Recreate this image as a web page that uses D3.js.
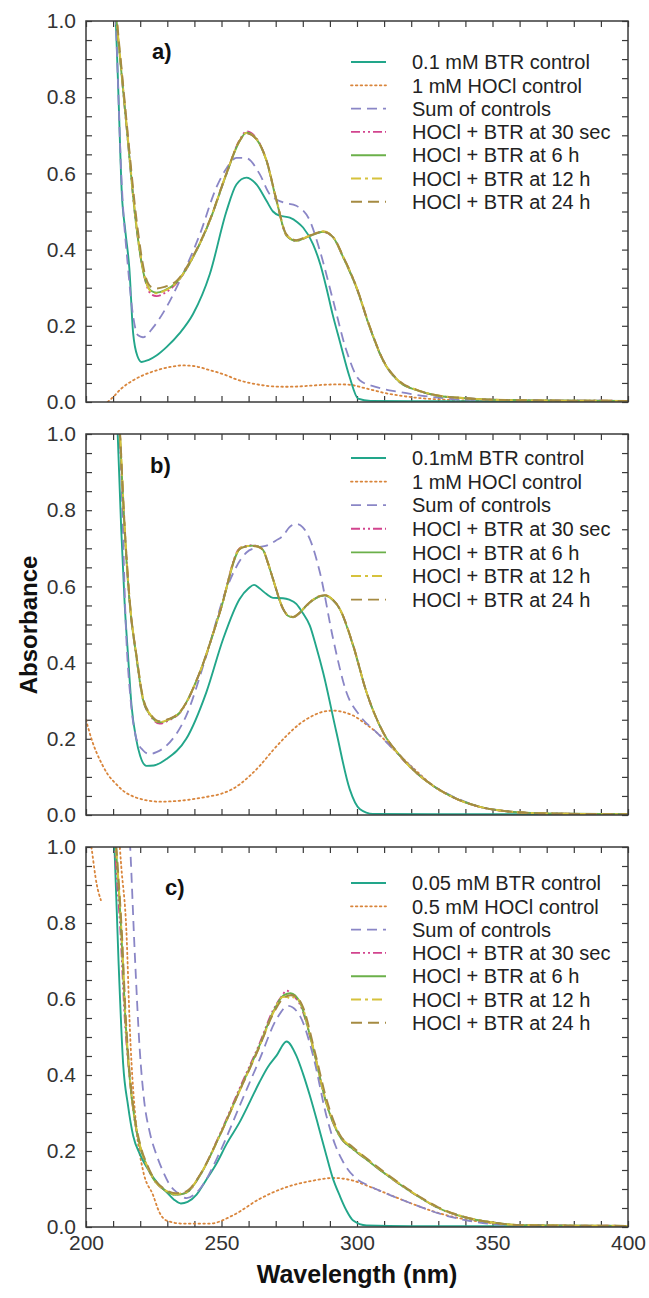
<!DOCTYPE html>
<html><head><meta charset="utf-8">
<script src="https://cdn.jsdelivr.net/npm/d3@7"></script>
<style>body{margin:0;background:#fff;} text{font-family:"Liberation Sans",Arial,sans-serif;}</style>
</head><body><svg id="chart" width="649" height="1298"></svg>
<script>
// ---------------- DATA ----------------
const xTickLabels = [200, 250, 300, 350, 400];
const yTickLabels = [0.0, 0.2, 0.4, 0.6, 0.8, 1.0];
const panelLabels = ["a)", "b)", "c)"];
const seriesNames = ["BTR control", "HOCl control", "Sum of controls", "30 sec", "6 h", "12 h", "24 h"];
const legendA = ["0.1 mM BTR control", "1 mM HOCl control", "Sum of controls", "HOCl + BTR at 30 sec", "HOCl + BTR at 6 h", "HOCl + BTR at 12 h", "HOCl + BTR at 24 h"];
const legendB = ["0.1mM BTR control", "1 mM HOCl control", "Sum of controls", "HOCl + BTR at 30 sec", "HOCl + BTR at 6 h", "HOCl + BTR at 12 h", "HOCl + BTR at 24 h"];
const legendC = ["0.05 mM BTR control", "0.5 mM HOCl control", "Sum of controls", "HOCl + BTR at 30 sec", "HOCl + BTR at 6 h", "HOCl + BTR at 12 h", "HOCl + BTR at 24 h"];

// Panel a: [wavelength nm, absorbance]
const aBTR = [[210.3,1.1],[211,1.0],[212,0.8],[213.2,0.55],[214.5,0.45],[216,0.35],[217.4,0.18],[219,0.12],[220.5,0.105],[223,0.11],[226,0.122],[229.7,0.144],[234.5,0.18],[239.5,0.231],[245.7,0.336],[251.8,0.50],[255.5,0.571],[259.2,0.589],[262.9,0.571],[266.6,0.528],[269,0.5],[271.5,0.489],[275.2,0.484],[278,0.472],[280.1,0.458],[283.8,0.414],[286.5,0.36],[288.7,0.30],[291,0.23],[293.6,0.161],[297.3,0.065],[300.4,0.009],[305,0.003],[320,0.002],[400,0.002]];
const aHOCl = [[208,0.0],[210,0.013],[213,0.035],[217.4,0.057],[221,0.07],[226,0.083],[231,0.092],[235.8,0.096],[240,0.094],[245,0.085],[251.8,0.07],[256,0.058],[260.4,0.05],[265,0.044],[269,0.041],[274,0.04],[278.9,0.041],[285,0.044],[291.2,0.046],[295,0.046],[298.6,0.044],[302,0.038],[306,0.031],[310,0.024],[315.8,0.017],[322,0.011],[330,0.007],[340,0.004],[360,0.002],[400,0.002]];
const aSum = [[210.4,1.1],[211,1.0],[213,0.6],[215.5,0.353],[217.5,0.22],[219.2,0.175],[221,0.17],[224.8,0.196],[229.7,0.249],[234.6,0.318],[242,0.44],[248.1,0.563],[252,0.615],[255.5,0.641],[259.2,0.64],[264.1,0.598],[267.8,0.545],[272.7,0.524],[277.6,0.515],[282.6,0.476],[286.3,0.397],[291.2,0.266],[296.1,0.135],[301,0.057],[307.2,0.039],[315.8,0.026],[328,0.013],[340,0.006],[400,0.003]];
const a30s = [[210.5,1.08],[211.3,1.0],[213,0.87],[215,0.72],[218.6,0.46],[221.5,0.33],[224,0.283],[226,0.278],[229,0.286],[233.4,0.312],[239.5,0.38],[245.7,0.476],[251.8,0.598],[256.7,0.688],[259.2,0.71],[262.9,0.692],[266.6,0.633],[270.3,0.528],[274,0.437],[277.6,0.423],[282.6,0.436],[287.5,0.447],[291.2,0.432],[294.9,0.38],[299.8,0.30],[304.7,0.196],[309.6,0.109],[315.8,0.052],[322,0.031],[329.3,0.017],[340,0.01],[350,0.006],[370,0.004],[400,0.003]];
const a6h = [[210.5,1.08],[211.3,1.0],[213,0.87],[215,0.72],[218.6,0.46],[221.5,0.33],[224,0.292],[226,0.287],[229,0.293],[233.4,0.314],[239.5,0.38],[245.7,0.476],[251.8,0.598],[256.7,0.685],[259.2,0.707],[262.9,0.69],[266.6,0.633],[270.3,0.528],[274,0.437],[277.6,0.423],[282.6,0.436],[287.5,0.447],[291.2,0.432],[294.9,0.38],[299.8,0.30],[304.7,0.196],[309.6,0.109],[315.8,0.052],[322,0.031],[329.3,0.017],[340,0.01],[350,0.006],[370,0.004],[400,0.003]];
const a12h = [[210.6,1.08],[211.4,1.0],[213.1,0.87],[215.1,0.72],[218.7,0.46],[221.6,0.33],[224,0.29],[226,0.285],[229,0.292],[233.4,0.314],[239.5,0.381],[245.7,0.477],[251.8,0.6],[256.7,0.686],[259.2,0.706],[262.9,0.69],[266.6,0.634],[270.3,0.53],[274,0.438],[277.6,0.424],[282.6,0.437],[287.5,0.448],[291.2,0.433],[294.9,0.382],[299.8,0.302],[304.7,0.198],[309.6,0.11],[315.8,0.053],[322,0.032],[329.3,0.018],[340,0.01],[350,0.006],[370,0.004],[400,0.003]];
const a24h = [[210.7,1.08],[211.5,1.0],[213.2,0.87],[215.2,0.72],[218.8,0.47],[221.6,0.34],[224,0.302],[226,0.298],[229,0.302],[233.4,0.318],[239.5,0.383],[245.7,0.478],[251.8,0.6],[256.7,0.686],[259.2,0.705],[262.9,0.69],[266.6,0.635],[270.3,0.53],[274,0.44],[277.6,0.425],[282.6,0.437],[287.5,0.447],[291.2,0.433],[294.9,0.382],[299.8,0.302],[304.7,0.198],[309.6,0.111],[315.8,0.054],[322,0.032],[329.3,0.018],[340,0.01],[350,0.006],[370,0.004],[400,0.003]];

// Panel b
const bBTR = [[211.2,1.1],[211.7,1.0],[213,0.75],[214.3,0.55],[215.5,0.42],[216.8,0.287],[218.5,0.2],[220,0.155],[222.3,0.129],[225,0.13],[229.7,0.147],[237,0.2],[244.4,0.322],[250.6,0.462],[256.7,0.567],[260,0.595],[262,0.604],[264,0.595],[266.6,0.58],[269,0.57],[272.7,0.569],[275,0.565],[277.6,0.554],[280,0.53],[282.6,0.497],[285,0.44],[287.5,0.374],[292.4,0.217],[297.3,0.068],[301,0.016],[305.9,0.003],[330,0.002],[400,0.002]];
const bHOCl = [[200,0.25],[202,0.2],[204,0.162],[206,0.132],[208,0.107],[211,0.082],[214,0.062],[218,0.047],[222,0.039],[227,0.035],[232,0.036],[238,0.04],[244,0.047],[250,0.056],[254,0.068],[257,0.082],[260,0.1],[264.1,0.129],[269,0.17],[274,0.208],[279,0.24],[283.8,0.261],[288,0.272],[291.2,0.274],[295,0.27],[298.6,0.261],[303,0.24],[307.2,0.217],[315.8,0.156],[322,0.115],[328,0.077],[335,0.048],[345,0.022],[355,0.01],[370,0.004],[400,0.002]];
const bSum = [[211.8,1.1],[212.5,1.0],[214.9,0.462],[216.5,0.3],[218.6,0.2],[221,0.17],[223.5,0.16],[226,0.165],[229.7,0.182],[237,0.261],[244.4,0.418],[251.8,0.593],[259.2,0.689],[263,0.702],[266.6,0.707],[270,0.72],[272.7,0.733],[275,0.755],[277.6,0.764],[280,0.755],[282.6,0.724],[286.3,0.637],[291.2,0.462],[296.1,0.322],[301,0.261],[307.2,0.217],[315.8,0.156],[328,0.077],[335,0.05],[345,0.022],[355,0.01],[370,0.004],[400,0.002]];
const b30s = [[211.6,1.1],[212.4,1.0],[214,0.78],[216.2,0.55],[218.5,0.42],[221,0.304],[224,0.258],[227.2,0.24],[230.5,0.248],[234.6,0.268],[242,0.374],[249.4,0.533],[256.7,0.7],[259,0.706],[261.7,0.708],[263.5,0.705],[265.4,0.696],[267.2,0.66],[269,0.619],[272.7,0.541],[274.5,0.523],[276.4,0.519],[278.8,0.53],[281.3,0.549],[285,0.57],[288.1,0.576],[291,0.565],[293.6,0.541],[298.6,0.444],[303.5,0.322],[309.6,0.217],[315.8,0.155],[322,0.11],[328,0.077],[335,0.048],[345,0.022],[355,0.01],[370,0.004],[400,0.002]];
const b6h = [[211.7,1.1],[212.5,1.0],[214,0.78],[216.2,0.55],[218.5,0.42],[221,0.304],[224,0.26],[227.2,0.243],[230.5,0.25],[234.6,0.269],[242,0.374],[249.4,0.532],[256.7,0.698],[259,0.705],[261.7,0.707],[263.5,0.705],[265.4,0.695],[267.2,0.66],[269,0.619],[272.7,0.541],[274.5,0.523],[276.4,0.519],[278.8,0.53],[281.3,0.549],[285,0.57],[288.1,0.576],[291,0.565],[293.6,0.541],[298.6,0.444],[303.5,0.322],[309.6,0.217],[315.8,0.156],[322,0.11],[328,0.077],[335,0.048],[345,0.022],[355,0.01],[370,0.004],[400,0.002]];
const b12h = [[211.8,1.1],[212.6,1.0],[214.1,0.78],[216.3,0.55],[218.6,0.42],[221.1,0.305],[224,0.261],[227.2,0.244],[230.5,0.251],[234.6,0.27],[242,0.375],[249.4,0.533],[256.7,0.699],[259,0.706],[261.7,0.706],[263.5,0.704],[265.4,0.695],[267.2,0.661],[269,0.62],[272.7,0.542],[274.5,0.524],[276.4,0.52],[278.8,0.531],[281.3,0.55],[285,0.571],[288.1,0.577],[291,0.566],[293.6,0.542],[298.6,0.445],[303.5,0.323],[309.6,0.218],[315.8,0.156],[322,0.11],[328,0.077],[335,0.048],[345,0.022],[355,0.01],[370,0.004],[400,0.002]];
const b24h = [[211.8,1.1],[212.6,1.0],[214.1,0.78],[216.3,0.55],[218.6,0.42],[221.1,0.306],[224,0.263],[227.2,0.246],[230.5,0.252],[234.6,0.27],[242,0.375],[249.4,0.532],[256.7,0.698],[259,0.704],[261.7,0.706],[263.5,0.704],[265.4,0.694],[267.2,0.66],[269,0.62],[272.7,0.542],[274.5,0.524],[276.4,0.52],[278.8,0.531],[281.3,0.55],[285,0.571],[288.1,0.577],[291,0.566],[293.6,0.542],[298.6,0.445],[303.5,0.323],[309.6,0.218],[315.8,0.157],[322,0.111],[328,0.078],[335,0.048],[345,0.022],[355,0.01],[370,0.004],[400,0.002]];

// Panel c
const cBTR = [[209.8,1.1],[210.5,1.0],[212,0.7],[213.7,0.43],[215.5,0.32],[217.4,0.24],[220,0.19],[223.5,0.145],[226.5,0.115],[229.7,0.092],[232.5,0.072],[235,0.062],[237.5,0.066],[240.8,0.085],[244,0.12],[248,0.165],[252,0.22],[256.7,0.276],[260.5,0.33],[264,0.381],[267,0.42],[270.3,0.451],[274,0.488],[277.6,0.451],[280,0.405],[282.6,0.346],[285.6,0.27],[288.7,0.188],[291,0.13],[293.6,0.083],[296,0.045],[298.6,0.017],[303.5,0.004],[320,0.002],[400,0.002]];
const cHOCl = [[200,1.1],[202,1.0],[204,0.9],[205.5,0.86],[206,null],[211.5,1.1],[213,0.95],[214.9,0.78],[216.2,0.52],[218.6,0.26],[221,0.15],[224.8,0.083],[227,0.04],[229.7,0.017],[235.8,0.009],[245.7,0.009],[254.3,0.031],[264.1,0.074],[274,0.105],[283.8,0.122],[291.2,0.129],[298.6,0.122],[304,0.108],[309.6,0.092],[321.9,0.057],[330,0.037],[340,0.02],[350,0.01],[360,0.005],[400,0.002]];
const cSum = [[215.5,1.1],[216.3,1.0],[218,0.72],[219.8,0.47],[221.5,0.33],[223.5,0.25],[226,0.19],[228.5,0.145],[231,0.11],[233.4,0.092],[237.1,0.076],[242,0.1],[249.4,0.197],[256.7,0.319],[264.1,0.442],[270.3,0.547],[274.6,0.582],[278.9,0.556],[283.8,0.451],[288.7,0.293],[292,0.215],[294.9,0.171],[299.8,0.127],[304,0.11],[309.6,0.092],[321.9,0.057],[330.5,0.035],[340,0.018],[350,0.008],[360,0.004],[400,0.002]];
const c30s = [[210,1.08],[211,0.96],[212.7,0.78],[214.3,0.55],[216,0.4],[218,0.28],[220,0.21],[222.5,0.16],[225,0.125],[229,0.097],[233,0.085],[237,0.09],[242,0.135],[249,0.238],[257,0.37],[264,0.482],[269,0.57],[272,0.605],[274,0.622],[276,0.612],[279,0.585],[284,0.465],[288.5,0.33],[293.5,0.24],[298.5,0.205],[304,0.175],[310,0.142],[322,0.083],[330,0.05],[340,0.025],[350,0.012],[360,0.005],[400,0.003]];
const c6h = [[210.5,1.05],[211.5,0.95],[213,0.78],[214.5,0.55],[216,0.4],[218,0.28],[220,0.21],[222.5,0.16],[225,0.125],[229,0.097],[233,0.085],[237,0.09],[242,0.135],[249,0.235],[257,0.365],[264,0.477],[269,0.565],[273,0.61],[275.5,0.615],[279,0.59],[284,0.465],[288.5,0.33],[293.5,0.24],[298.5,0.205],[304,0.175],[310,0.142],[322,0.083],[330,0.05],[340,0.025],[350,0.012],[360,0.005],[400,0.003]];
const c12h = [[210.6,1.05],[211.6,0.95],[213.1,0.78],[214.6,0.55],[216.1,0.4],[218.1,0.28],[220.1,0.21],[222.6,0.16],[225,0.126],[229,0.098],[233,0.087],[237,0.092],[242,0.136],[249,0.235],[257,0.363],[264,0.475],[269,0.562],[272.5,0.605],[274,0.606],[275.5,0.6],[277,0.606],[279.5,0.585],[284,0.467],[288.5,0.333],[293.5,0.243],[298.5,0.208],[304,0.177],[310,0.144],[322,0.084],[330,0.051],[340,0.026],[350,0.012],[360,0.005],[400,0.003]];
const c24h = [[210.7,1.05],[211.7,0.95],[213.2,0.78],[214.7,0.55],[216.2,0.4],[218.2,0.28],[220.2,0.212],[222.7,0.162],[225,0.128],[229,0.1],[233,0.089],[237,0.094],[242,0.137],[249,0.236],[257,0.363],[264,0.474],[269,0.56],[273,0.603],[275.5,0.61],[277.5,0.607],[280,0.58],[284.5,0.46],[289,0.33],[293.5,0.245],[298.5,0.21],[304,0.178],[310,0.145],[322,0.085],[330,0.052],[340,0.026],[350,0.012],[360,0.005],[400,0.003]];

// ---------------- STYLE ----------------
const colors = ["#22a68a", "#d9853b", "#8a86c6", "#d2448e", "#6bb04a", "#d6c23c", "#a58a42"];
const dashes = [null, "1.6,3.2", "10,6", "9,3,2,3,2,3", null, "10,4,3,4", "11,6"];
const widths = [1.9, 1.8, 1.8, 1.9, 1.9, 1.9, 1.9];

const panels = [
  {top: 21, bottom: 402, label: panelLabels[0], lx: 152, ly: 59, legend: legendA, legY: 62, legStep: 23.3,
   series: [aBTR, aHOCl, aSum, a30s, a6h, a12h, a24h]},
  {top: 434, bottom: 815, label: panelLabels[1], lx: 150, ly: 473, legend: legendB, legY: 458, legStep: 23.6,
   series: [bBTR, bHOCl, bSum, b30s, b6h, b12h, b24h]},
  {top: 847, bottom: 1227, label: panelLabels[2], lx: 165, ly: 895, legend: legendC, legY: 883, legStep: 23.3,
   series: [cBTR, cHOCl, cSum, c30s, c6h, c12h, c24h]}
];

const svg = d3.select("#chart");
const left = 86, right = 628;
const x = d3.scaleLinear().domain([200, 400]).range([left, right]);
const xMinor = d3.range(200, 401, 10);
const yMinor = d3.range(0, 1.0001, 0.05).map(v => +v.toFixed(2));
const axisColor = "#3a3a3a";

panels.forEach((p, pi) => {
  const y = d3.scaleLinear().domain([0, 1]).range([p.bottom, p.top]);
  const g = svg.append("g");
  const clipId = "clip" + pi;
  svg.append("clipPath").attr("id", clipId).append("rect")
    .attr("x", left).attr("y", p.top).attr("width", right - left).attr("height", p.bottom - p.top);

  const ax = (gen, tx, ty) => {
    const a = g.append("g").attr("transform", `translate(${tx},${ty})`).call(gen);
    a.select(".domain").remove();
    a.selectAll("line").attr("stroke", axisColor).attr("stroke-width", 1.2);
    return a;
  };
  ax(d3.axisBottom(x).tickValues(xMinor).tickSize(-6).tickFormat(""), 0, p.bottom);
  ax(d3.axisTop(x).tickValues(xMinor).tickSize(-6).tickFormat(""), 0, p.top);
  ax(d3.axisLeft(y).tickValues(yMinor).tickSize(-6).tickFormat(""), left, 0);
  ax(d3.axisRight(y).tickValues(yMinor).tickSize(-6).tickFormat(""), right, 0);

  const yl = g.append("g").attr("transform", `translate(${left},0)`)
    .call(d3.axisLeft(y).tickValues(yTickLabels).tickSize(0).tickPadding(10).tickFormat(d3.format(".1f")));
  yl.select(".domain").remove();
  yl.selectAll("text").attr("font-size", 21).attr("fill", "#333").style("font-family", "'Liberation Sans', Arial, sans-serif");

  if (pi === 2) {
    const xl = g.append("g").attr("transform", `translate(0,${p.bottom})`)
      .call(d3.axisBottom(x).tickValues(xTickLabels).tickSize(0).tickPadding(8).tickFormat(d3.format("d")));
    xl.select(".domain").remove();
    xl.selectAll("text").attr("font-size", 21).attr("fill", "#333").style("font-family", "'Liberation Sans', Arial, sans-serif");
  }

  const line = d3.line().defined(d => d[1] != null)
    .x(d => x(d[0])).y(d => y(d[1])).curve(d3.curveMonotoneX);
  const lg = g.append("g").attr("clip-path", `url(#${clipId})`);
  const order = [1, 0, 2, 3, 4, 5, 6];
  order.forEach(i => {
    lg.append("path").datum(p.series[i])
      .attr("d", line)
      .attr("fill", "none")
      .attr("stroke", colors[i])
      .attr("stroke-width", widths[i])
      .attr("stroke-dasharray", dashes[i])
      .attr("stroke-linecap", i === 1 ? "round" : "butt");
  });

  g.append("rect").attr("x", left).attr("y", p.top).attr("width", right - left).attr("height", p.bottom - p.top)
    .attr("fill", "none").attr("stroke", axisColor).attr("stroke-width", 1.5);

  g.append("text").attr("x", p.lx).attr("y", p.ly).text(p.label)
    .attr("font-size", 22).attr("font-weight", "bold").attr("fill", "#111");

  p.legend.forEach((name, i) => {
    const ly = p.legY + i * p.legStep;
    g.append("line").attr("x1", 351).attr("x2", 386).attr("y1", ly).attr("y2", ly)
      .attr("stroke", colors[i]).attr("stroke-width", widths[i])
      .attr("stroke-dasharray", dashes[i]).attr("stroke-linecap", i === 1 ? "round" : "butt");
    g.append("text").attr("x", 412).attr("y", ly).attr("dy", "0.36em").text(name)
      .attr("font-size", 20).attr("fill", "#222");
  });
});

svg.append("text").attr("x", (left + right) / 2).attr("y", 1283).attr("text-anchor", "middle")
  .attr("font-size", 25).attr("font-weight", "bold").attr("fill", "#111").text("Wavelength (nm)");
svg.append("text").attr("transform", "translate(37,625) rotate(-90)").attr("text-anchor", "middle")
  .attr("font-size", 24).attr("font-weight", "bold").attr("fill", "#111").text("Absorbance");
</script></body></html>
